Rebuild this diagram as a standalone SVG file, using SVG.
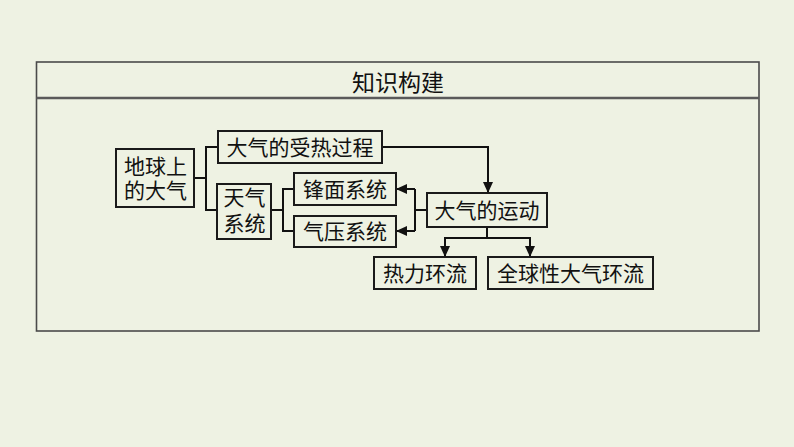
<svg xmlns="http://www.w3.org/2000/svg" width="794" height="447" viewBox="0 0 794 447">
<style>
.bg{fill:#eef2e3}
.frame{fill:#eef2e3;stroke:#4a4a4a;stroke-width:1.6}
.hdr{stroke:#5a5a5a;stroke-width:2.5}
.box{fill:#eef2e3;stroke:#1a1a1a;stroke-width:2}
.t{font-family:"Liberation Sans","Noto Sans CJK SC","Noto Sans CJK TC",sans-serif;font-size:21px;fill:#111;text-anchor:middle}
.title{font-family:"Liberation Sans","Noto Sans CJK SC","Noto Sans CJK TC",sans-serif;font-size:23px;fill:#111;text-anchor:middle}
.ln{fill:none;stroke:#111;stroke-width:2}
</style>
<defs>
<marker id="ah" viewBox="0 0 11 10" refX="11" refY="5" markerWidth="11" markerHeight="10" markerUnits="userSpaceOnUse" orient="auto">
<path d="M0,0 L11,5 L0,10 Z" fill="#111"/>
</marker>
</defs>
<rect class="bg" x="0" y="0" width="794" height="447"/>
<g id="frame">
<rect class="frame" x="36.5" y="62" width="722.5" height="269"/>
<line class="hdr" x1="36.5" y1="98" x2="759" y2="98"/>
<text class="title" x="398" y="91">知识构建</text>
</g>
<g id="connectors">
<polyline class="ln" points="194,178 206,178"/>
<polyline class="ln" points="218,147 206,147 206,210 218,210"/>
<polyline class="ln" points="271,210 283,210"/>
<polyline class="ln" points="294,189 283,189 283,231 294,231"/>
<polyline class="ln" points="382,147 488,147 488,193" marker-end="url(#ah)"/>
<polyline class="ln" points="427,210 415,210"/>
<polyline class="ln" points="415,189 415,231"/>
<line class="ln" x1="415" y1="189" x2="396" y2="189" marker-end="url(#ah)"/>
<line class="ln" x1="415" y1="231" x2="396" y2="231" marker-end="url(#ah)"/>
<polyline class="ln" points="487,227 487,238"/>
<polyline class="ln" points="445,238 530,238"/>
<line class="ln" x1="445" y1="237" x2="445" y2="257" marker-end="url(#ah)"/>
<line class="ln" x1="530" y1="237" x2="530" y2="257" marker-end="url(#ah)"/>
</g>
<g id="n1"><rect class="box" x="116" y="149" width="78" height="58"/><text class="t" x="155.5" y="173.5">地球上</text><text class="t" x="155.5" y="197.5">的大气</text></g>
<g id="n2"><rect class="box" x="218" y="131" width="164" height="32"/><text class="t" x="300" y="154.5">大气的受热过程</text></g>
<g id="n3"><rect class="box" x="217" y="184" width="54" height="55"/><text class="t" x="244.5" y="204.5">天气</text><text class="t" x="244.5" y="230.5">系统</text></g>
<g id="n4"><rect class="box" x="294" y="173" width="102" height="32"/><text class="t" x="345" y="196.5">锋面系统</text></g>
<g id="n5"><rect class="box" x="294" y="216" width="102" height="31"/><text class="t" x="345" y="239">气压系统</text></g>
<g id="n6"><rect class="box" x="427" y="193" width="120" height="34"/><text class="t" x="487" y="217.5">大气的运动</text></g>
<g id="n7"><rect class="box" x="374" y="257" width="102" height="32"/><text class="t" x="425" y="280.5">热力环流</text></g>
<g id="n8"><rect class="box" x="488" y="257" width="165" height="32"/><text class="t" x="570.5" y="280.5">全球性大气环流</text></g>
</svg>
